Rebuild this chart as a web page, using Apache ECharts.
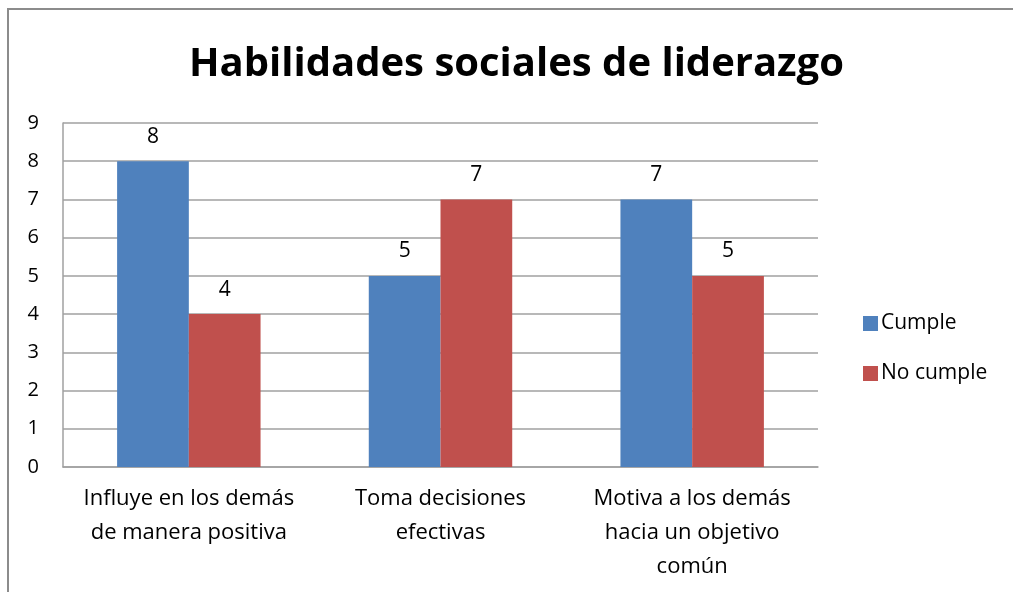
<!DOCTYPE html>
<html>
<head>
<meta charset="utf-8">
<script src="https://cdn.jsdelivr.net/npm/echarts@6/dist/echarts.min.js"></script>
<style>html,body{margin:0;padding:0;background:#fff}#c{width:1013px;height:592px}</style>
</head>
<body>
<div id="c"></div>
<script>
const categories = ["Influye en los demás\nde manera positiva", "Toma decisiones\nefectivas", "Motiva a los demás\nhacia un objetivo\ncomún"];
const cumple = [8, 5, 7];
const noCumple = [4, 7, 5];
const yTicks = [0, 1, 2, 3, 4, 5, 6, 7, 8, 9];

const font = "'Open Sans', 'Noto Sans', sans-serif";
const chart = echarts.init(document.getElementById('c'), null, {renderer: 'canvas'});
chart.setOption({
  animation: false,
  backgroundColor: '#fff',
  title: {
    text: 'Habilidades sociales de liderazgo',
    left: 184, top: 40,
    textStyle: {fontFamily: font, fontWeight: 'bold', fontSize: 40, color: '#000'}
  },
  graphic: [{
    type: 'polyline', silent: true,
    shape: {points: [[8, 600], [8, 9], [1020, 9]]},
    style: {stroke: '#8c8c8c', lineWidth: 2, fill: null}
  }],
  legend: {
    orient: 'vertical', left: 858, top: 308, itemGap: 29,
    itemWidth: 15, itemHeight: 15, icon: 'rect',
    textStyle: {fontFamily: font, fontSize: 21, color: '#000', padding: [0, 0, 0, -2]},
    data: ['Cumple', 'No cumple']
  },
  grid: {left: 63, right: 195, top: 123, bottom: 125, containLabel: false},
  xAxis: {
    type: 'category', data: categories,
    axisLine: {lineStyle: {color: '#a0a0a0', width: 1.5}},
    axisTick: {show: false},
    axisLabel: {fontFamily: font, fontSize: 22, color: '#000', lineHeight: 34, margin: 15, interval: 0}
  },
  yAxis: {
    type: 'value', min: 0, max: 9, interval: 1,
    axisLine: {show: true, lineStyle: {color: '#a0a0a0', width: 1.5}},
    axisTick: {show: false},
    splitLine: {lineStyle: {color: '#a0a0a0', width: 1.5}},
    axisLabel: {fontFamily: font, fontSize: 20, color: '#000', margin: 24,
      formatter: v => yTicks.includes(v) ? String(v) : ''}
  },
  series: [
    {name: 'Cumple', type: 'bar', data: cumple, barGap: '0%', barCategoryGap: '43%',
      itemStyle: {color: '#4f81bd'},
      label: {show: true, position: 'top', distance: 14, fontFamily: font, fontSize: 21, color: '#000'}},
    {name: 'No cumple', type: 'bar', data: noCumple,
      itemStyle: {color: '#c0504d'},
      label: {show: true, position: 'top', distance: 14, fontFamily: font, fontSize: 21, color: '#000'}}
  ]
});
</script>
</body>
</html>
